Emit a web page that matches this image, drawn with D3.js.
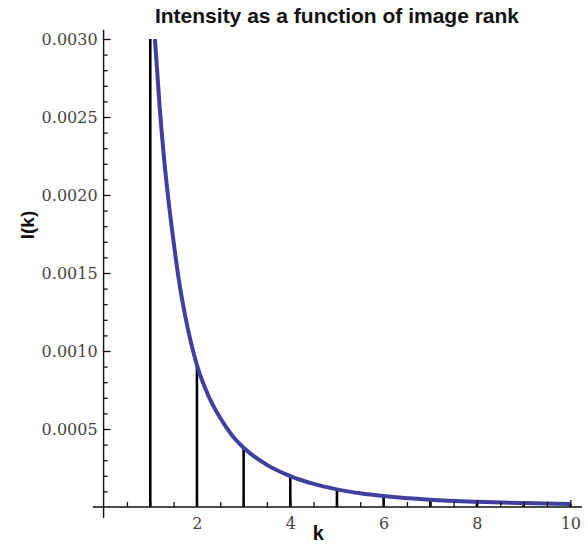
<!DOCTYPE html>
<html>
<head>
<meta charset="utf-8">
<style>
  body { margin: 0; background: #fff; }
  svg { display: block; }
</style>
</head>
<body>
<script src="https://cdnjs.cloudflare.com/ajax/libs/d3/7.8.5/d3.min.js"></script>
<script>
var w = 588, h = 546;

// stems at each rank k (k = 1 is cut off at the top of the plot)
var ranks = [1, 2, 3, 4, 5, 6, 7, 8, 9, 10];
var stemValues = [0.0040, 0.00091, 0.00038, 0.000198, 0.000113, 0.000070, 0.000046, 0.000033, 0.000025, 0.000020];

// points
var curveK = [1.1, 1.2, 1.3, 1.4, 1.5, 1.6, 1.7, 1.8, 1.9, 2.0, 2.25, 2.5, 2.75, 3.0, 3.5, 4.0, 4.5, 5.0, 5.5, 6.0, 7.0, 8.0, 9.0, 10.0];
var curveI = [0.00300, 0.00257, 0.00222, 0.00194, 0.00170, 0.00148, 0.00130, 0.00115, 0.00102, 0.00091,
              0.00071, 0.00057, 0.00046, 0.00038, 0.00027, 0.000198, 0.000148, 0.000113, 0.000088, 0.000070,
              0.000046, 0.000033, 0.000025, 0.000020];

var xTicks = [2, 4, 6, 8, 10];
var xMinor = [0.5, 1, 1.5, 2.5, 3, 3.5, 4.5, 5, 5.5, 6.5, 7, 7.5, 8.5, 9, 9.5];
var yTicks = [0.0005, 0.0010, 0.0015, 0.0020, 0.0025, 0.0030];

var title = "Intensity as a function of image rank";
var xLabel = "k";
var yLabel = "I(k)";

var x = d3.scaleLinear().domain([0, 10]).range([103.6, 570.3]);
var y = d3.scaleLinear().domain([0, 0.003]).range([507, 39]);

var svg = d3.select("body")
            .append("svg")
            .attr("width", w)
            .attr("height", h);

svg.append("defs").append("clipPath")
    .attr("id", "plotclip")
  .append("rect")
    .attr("x", 0)
    .attr("y", y(0.003))
    .attr("width", w)
    .attr("height", y(0) - y(0.003) + 20);

var plot = svg.append("g").attr("clip-path", "url(#plotclip)");

// stems
plot.selectAll("line.stem")
    .data(ranks)
    .enter()
    .append("line")
    .attr("class", "stem")
    .attr("x1", function(d) { return x(d); })
    .attr("x2", function(d) { return x(d); })
    .attr("y1", y(0))
    .attr("y2", function(d, i) { return y(stemValues[i]); })
    .attr("stroke", "#000")
    .attr("stroke-width", 2.6);

// curve
var pts = curveK.map(function(k, i) { return [k, curveI[i]]; });
var line = d3.line()
             .x(function(d) { return x(d[0]); })
             .y(function(d) { return y(d[1]); })
             .curve(d3.curveMonotoneX);

plot.append("path")
    .datum(pts)
    .attr("d", line)
    .attr("fill", "none")
    .attr("stroke", "#40409f")
    .attr("stroke-width", 4);

// axes
var tickFont = "'DejaVu Serif', serif";

svg.append("g")
   .attr("transform", "translate(0," + y(0) + ")")
   .call(d3.axisBottom(x).tickValues(xTicks).tickSizeInner(-7).tickSizeOuter(0).tickPadding(11).tickFormat(d3.format("d")));
svg.append("g")
   .attr("transform", "translate(0," + y(0) + ")")
   .call(d3.axisBottom(x).tickValues(xMinor).tickSizeInner(-5).tickSizeOuter(0).tickFormat(""));

svg.append("g")
   .attr("transform", "translate(" + x(0) + ",0)")
   .call(d3.axisLeft(y).tickValues(yTicks).tickSizeInner(-7).tickSizeOuter(0).tickPadding(6).tickFormat(d3.format(".4f")));
svg.append("g")
   .attr("transform", "translate(" + x(0) + ",0)")
   .call(d3.axisLeft(y).tickValues(d3.range(1, 30).filter(function(d) { return d % 5 != 0; }).map(function(d) { return d / 10000; }))
          .tickSizeInner(-4).tickSizeOuter(0).tickFormat(""));

svg.selectAll(".domain").remove();
svg.selectAll(".tick line").attr("stroke", "#111").attr("stroke-width", 1.3);
svg.selectAll(".tick text")
   .attr("font-family", tickFont)
   .attr("font-size", "16px")
   .attr("fill", "#444");

// axis lines, drawn a little beyond the plot range
svg.append("line")
   .attr("x1", x(-0.23)).attr("x2", x(10.25))
   .attr("y1", y(0)).attr("y2", y(0))
   .attr("stroke", "#111").attr("stroke-width", 1.4);
svg.append("line")
   .attr("x1", x(0)).attr("x2", x(0))
   .attr("y1", y(-0.00007)).attr("y2", y(0.00306))
   .attr("stroke", "#111").attr("stroke-width", 1.4);

// titles
svg.append("text")
   .text(title)
   .attr("x", 337)
   .attr("y", 23)
   .attr("text-anchor", "middle")
   .attr("font-family", "'Liberation Sans', Arial, sans-serif")
   .attr("font-weight", "bold")
   .attr("font-size", "21px")
   .attr("fill", "#111");

svg.append("text")
   .text(xLabel)
   .attr("x", x(4.6))
   .attr("y", 540)
   .attr("text-anchor", "middle")
   .attr("font-family", "'Liberation Sans', Arial, sans-serif")
   .attr("font-weight", "bold")
   .attr("font-size", "20px")
   .attr("fill", "#111");

svg.append("text")
   .text(yLabel)
   .attr("transform", "translate(34,225) rotate(-90)")
   .attr("text-anchor", "middle")
   .attr("font-family", "'Liberation Sans', Arial, sans-serif")
   .attr("font-weight", "bold")
   .attr("font-size", "19px")
   .attr("fill", "#111");
</script>
</body>
</html>
